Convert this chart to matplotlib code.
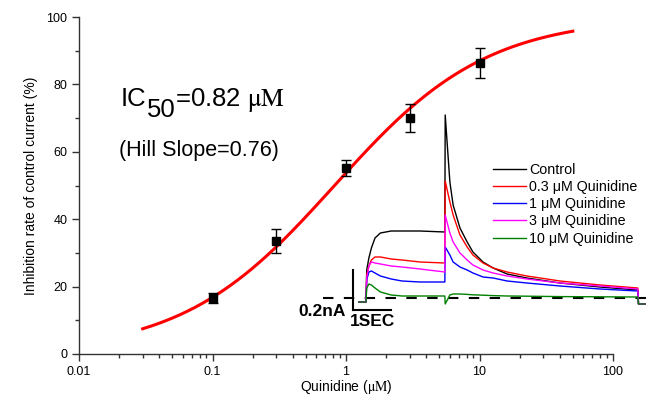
import numpy as np
import matplotlib
matplotlib.use("Agg")
import matplotlib.pyplot as plt

plt.rcParams['font.family'] = ['Liberation Sans', 'DejaVu Sans']
plt.rcParams['mathtext.fontset'] = 'stix'

# concentration-response data (mean +/- error)
conc = [0.1, 0.3, 1, 3, 10]
inhibition = [16.6, 33.5, 55.2, 70.0, 86.4]
inhibition_err = [1.6, 3.6, 2.4, 4.2, 4.5]

# Hill fit parameters
ic50 = 0.82
hill_slope = 0.76

# current traces (time in s, current in nA)
trace_labels = ['Control', '0.3 \u03bcM Quinidine', '1 \u03bcM Quinidine',
                '3 \u03bcM Quinidine', '10 \u03bcM Quinidine']
trace_colors = ['black', '#ff0000', '#0000ff', '#ff00ff', '#008000']

t_pre = [-0.2, 0.0]
t_step = [0.02, 0.08, 0.15, 0.25, 0.4, 0.7, 1.0, 1.5, 2.19]
t_tail = [2.2, 2.33, 2.42, 2.61, 2.81, 2.97, 3.25, 3.53, 3.92, 4.47, 5.39, 6.5, 7.55]
t_post = [7.57, 7.75]

i_pre = [-0.02, -0.02]
i_post = [-0.03, -0.03]
i_step = [
    [0.14, 0.20, 0.25, 0.30, 0.325, 0.335, 0.335, 0.335, 0.33],
    [0.115, 0.16, 0.19, 0.205, 0.205, 0.195, 0.19, 0.18, 0.175],
    [0.09, 0.13, 0.135, 0.125, 0.11, 0.095, 0.085, 0.08, 0.08],
    [0.10, 0.16, 0.18, 0.175, 0.17, 0.16, 0.155, 0.145, 0.13],
    [0.05, 0.07, 0.065, 0.05, 0.03, 0.015, 0.01, 0.01, 0.01],
]
i_tail = [
    [0.915, 0.58, 0.465, 0.35, 0.28, 0.23, 0.18, 0.15, 0.12, 0.10, 0.075, 0.055, 0.04],
    [0.585, 0.48, 0.415, 0.315, 0.255, 0.215, 0.175, 0.15, 0.13, 0.11, 0.085, 0.065, 0.05],
    [0.255, 0.215, 0.18, 0.155, 0.14, 0.125, 0.105, 0.10, 0.085, 0.075, 0.06, 0.045, 0.035],
    [0.415, 0.325, 0.28, 0.225, 0.19, 0.165, 0.14, 0.125, 0.11, 0.095, 0.075, 0.06, 0.045],
    [-0.03, 0.015, 0.02, 0.02, 0.018, 0.016, 0.014, 0.012, 0.01, 0.009, 0.007, 0.006, 0.005],
]

fig = plt.figure(figsize=(6.52, 4.0), dpi=100)
ax = fig.add_axes([79 / 652, 46 / 400, 534 / 652, 337 / 400])

# fitted curve
xfit = np.logspace(np.log10(0.03), np.log10(50), 300)
yfit = 100 / (1 + (ic50 / xfit) ** hill_slope)
ax.plot(xfit, yfit, color='#ff0000', lw=2.2, zorder=2)

ax.errorbar(conc, inhibition, yerr=inhibition_err, fmt='s', color='black',
            markersize=5.5, capsize=3.5, elinewidth=1, capthick=1, zorder=3)

ax.set_xscale('log')
ax.set_xlim(0.01, 100)
ax.set_ylim(0, 100)
ax.set_yticks([0, 20, 40, 60, 80, 100])
ax.set_yticks([10, 30, 50, 70, 90], minor=True)
ax.set_xticks([0.01, 0.1, 1, 10, 100])
ax.set_xticklabels(['0.01', '0.1', '1', '10', '100'])
ax.spines['top'].set_visible(False)
ax.spines['right'].set_visible(False)
for s in ['left', 'bottom']:
    ax.spines[s].set_color('#333333')
    ax.spines[s].set_linewidth(1.0)
ax.tick_params(which='major', length=5, width=1, color='#333333', labelsize=9)
ax.tick_params(which='minor', length=3, width=1, color='#333333')
ax.set_xlabel('Quinidine ($\\mathrm{\\mu M}$)', fontsize=10, labelpad=0)
ax.set_ylabel('Inhibition rate of control current (%)', fontsize=10, labelpad=6)

# IC50 annotation
fig.text(121 / 652, 1 - 106 / 400, 'IC', fontsize=18.5, va='baseline')
fig.text(147 / 652, 1 - 117 / 400, '50', fontsize=18.5, va='baseline')
fig.text(175 / 652, 1 - 106 / 400, '=0.82 $\\mathrm{\\mu M}$', fontsize=18.5, va='baseline')
fig.text(119 / 652, 1 - 156 / 400, '(Hill Slope=0.76)', fontsize=15.5, va='baseline')

# inset with current traces
tx0, tx1 = -1.2, 7.95
iy0, iy1 = -0.1, 1.0
px_per_s, px_per_nA = 36, 200
left_px = 366 + tx0 * px_per_s
bottom_px = 298 - iy0 * px_per_nA
inset = fig.add_axes([left_px / 652, 1 - bottom_px / 400,
                      (tx1 - tx0) * px_per_s / 652, (iy1 - iy0) * px_per_nA / 400])
inset.set_xlim(tx0, tx1)
inset.set_ylim(iy0, iy1)
inset.axis('off')
inset.patch.set_alpha(0)

t_all = t_pre + t_step + t_tail + t_post
for label, color, st, tl in zip(trace_labels, trace_colors, i_step, i_tail):
    inset.plot(t_all, i_pre + st + tl + i_post, color=color, lw=1.2, label=label)

inset.plot([tx0, tx1], [0, 0], color='black', lw=1.5, ls=(0, (5, 5)), zorder=1)

# scale bars
inset.plot([-0.36, -0.36], [-0.06, 0.14], color='black', lw=1.5)
inset.plot([-0.36, 0.69], [-0.06, -0.06], color='black', lw=1.5)
inset.text(-0.55, -0.065, '0.2nA', fontsize=12.5, fontweight='bold', ha='right', va='center')
inset.text(0.17, -0.08, '1SEC', fontsize=12.5, fontweight='bold', ha='center', va='top')

handles, labels = inset.get_legend_handles_labels()
for h in handles:
    h.set_linewidth(1.0)
fig.legend(handles, labels, loc='upper left',
           bbox_to_anchor=(493 / 652, 1 - 163 / 400), frameon=False,
           fontsize=10.3, handlelength=2.3, handletextpad=0.2,
           labelspacing=0.22, borderpad=0, borderaxespad=0)

fig.savefig('out.png', dpi=100)
